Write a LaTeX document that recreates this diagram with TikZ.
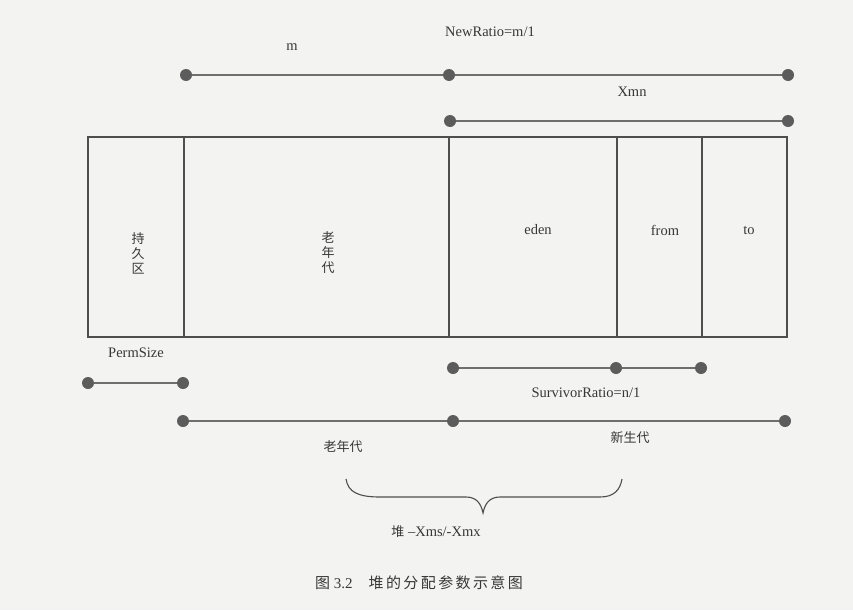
\documentclass[tikz,border=0pt]{standalone}
\usepackage{fontspec}
\setmainfont{Liberation Serif}
\newfontfamily\cjk{Noto Sans CJK SC}
\newfontfamily\cjkcap[LetterSpace=16]{Noto Sans CJK SC}
\definecolor{bgcol}{RGB}{243,243,241}
\definecolor{dotgray}{RGB}{92,92,92}
\definecolor{linegray}{RGB}{110,110,110}
\definecolor{boxgray}{RGB}{78,78,78}
\definecolor{txtgray}{RGB}{55,55,55}
\begin{document}
\begin{tikzpicture}[x=1pt,y=-1pt,
  dot/.style={circle,fill=dotgray,inner sep=0pt,minimum size=12pt},
  seg/.style={draw=linegray,line width=1.7pt},
  cell/.style={draw=boxgray,line width=1.2pt},
  lbl/.style={text=txtgray,font=\fontsize{14.5}{16}\selectfont,inner sep=0pt},
  cjklbl/.style={text=txtgray,font=\cjk\fontsize{13}{15}\selectfont,inner sep=0pt,align=center},
  brace/.style={draw=boxgray,line width=1.1pt}]
\fill[bgcol] (0,0) rectangle (853,610);
\useasboundingbox (0,0) rectangle (853,610);

% heap compartments
\draw[cell] (88,137) rectangle (184,337);
\draw[cell] (184,137) rectangle (449,337);
\draw[cell] (449,137) rectangle (617,337);
\draw[cell] (617,137) rectangle (702,337);
\draw[cell] (702,137) rectangle (787,337);

\node[cjklbl] (tperm) at (138,253) {持\\久\\区};
\node[cjklbl] (told) at (328,253) {老\\年\\代};
\node[lbl] (teden) at (538,230) {eden};
\node[lbl] (tfrom) at (665,230) {from};
\node[lbl] (tto) at (749,230) {to};

% top: NewRatio
\node[dot] (a1) at (186,75) {};
\node[dot] (a2) at (449,75) {};
\node[dot] (a3) at (788,75) {};
\draw[seg] (a1) -- (a2);
\draw[seg] (a2) -- (a3);
\node[lbl] (tm) at (292,47) {m};
\node[lbl] (tnr) at (490,32) {NewRatio=m/1};

% Xmn
\node[dot] (b1) at (450,121) {};
\node[dot] (b2) at (788,121) {};
\draw[seg] (b1) -- (b2);
\node[lbl] (txmn) at (632,92) {Xmn};

% PermSize
\node[lbl] (tps) at (136,353) {PermSize};
\node[dot] (c1) at (88,383) {};
\node[dot] (c2) at (183,383) {};
\draw[seg] (c1) -- (c2);

% SurvivorRatio
\node[dot] (d1) at (453,368) {};
\node[dot] (d2) at (616,368) {};
\node[dot] (d3) at (701,368) {};
\draw[seg] (d1) -- (d2);
\draw[seg] (d2) -- (d3);
\node[lbl] (tsr) at (586,393) {SurvivorRatio=n/1};

% old / young generation
\node[dot] (e1) at (183,421) {};
\node[dot] (e2) at (453,421) {};
\node[dot] (e3) at (785,421) {};
\draw[seg] (e1) -- (e2);
\draw[seg] (e2) -- (e3);
\node[cjklbl] (told2) at (343,447) {老年代};
\node[cjklbl] (tyoung) at (630,438) {新生代};

% brace
\coordinate (bl) at (346,479);
\coordinate (br) at (622,479);
\coordinate (bt) at (483,513);
\draw[brace] (bl) .. controls (348,492) and (358,497) .. (380,497)
  -- (466,497) .. controls (476,497) and (481,503) .. (bt)
  .. controls (485,503) and (490,497) .. (500,497)
  -- (600,497) .. controls (614,497) and (620,490) .. (br);
\node[text=txtgray,inner sep=0pt] (theap) at (436,532)
  {{\cjk\fontsize{13}{15}\selectfont 堆}\fontsize{14.5}{16}\selectfont\ –Xms/-Xmx};

% caption
\node[text=txtgray,inner sep=0pt] (cap) at (419,583)
  {{\cjk\fontsize{15}{17}\selectfont 图}\fontsize{15}{17}\selectfont\ 3.2\hspace{16pt}{\cjkcap\fontsize{15}{17}\selectfont 堆的分配参数示意图}};
\end{tikzpicture}
\end{document}
